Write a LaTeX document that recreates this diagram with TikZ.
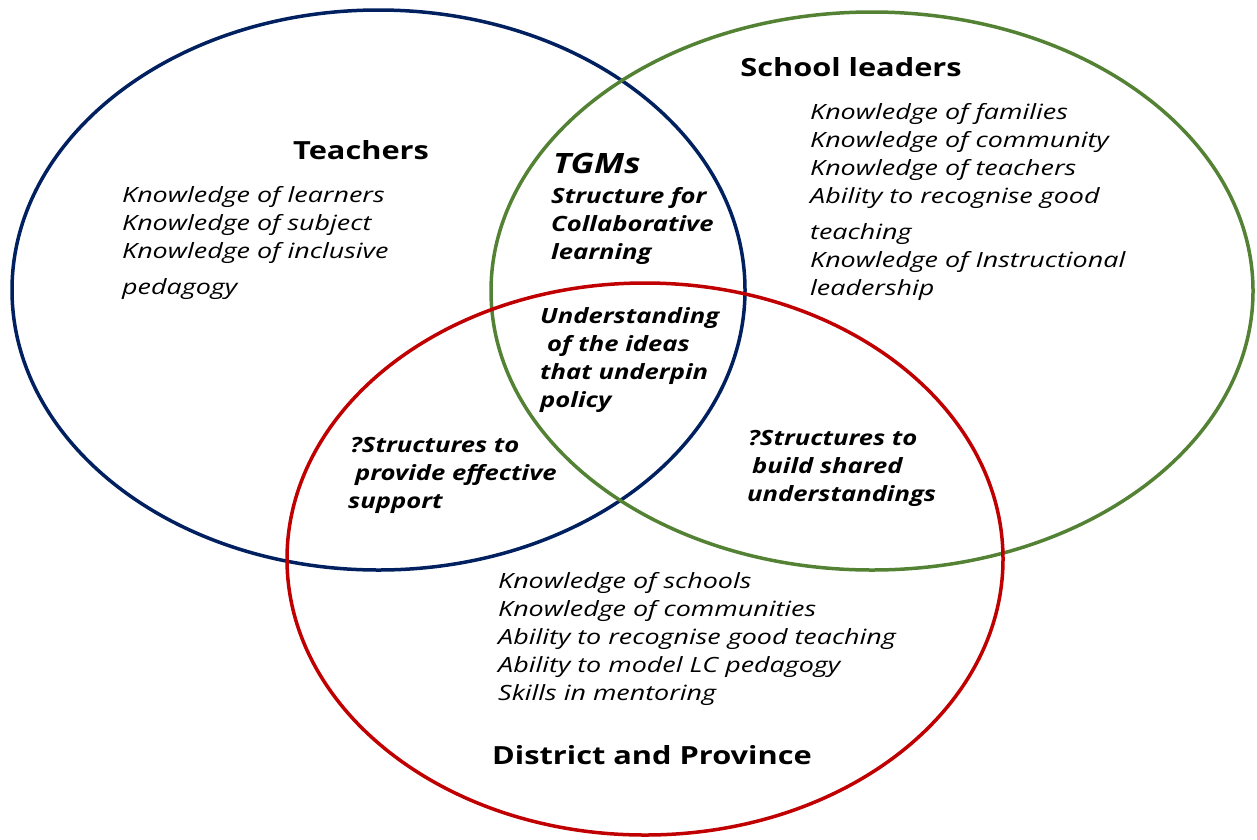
\documentclass[tikz,border=0pt]{standalone}
\usepackage{fontspec}
\setmainfont{Open Sans}[UprightFeatures={FakeStretch=1.0}, ItalicFeatures={FakeStretch=1.28}, BoldFeatures={FakeStretch=1.23}, BoldItalicFeatures={FakeStretch=1.22}]
\usetikzlibrary{shapes.geometric}
\definecolor{navyc}{HTML}{002060}
\definecolor{greenc}{HTML}{548235}
\definecolor{redc}{HTML}{C00000}
\tikzset{
  ring/.style={ellipse, draw, line width=3.5pt, inner sep=0pt, outer sep=0pt},
  item/.style={font=\fontsize{21}{28}\selectfont\itshape, inner sep=0pt, anchor=base west},
  head/.style={font=\fontsize{25}{30}\selectfont\bfseries, inner sep=0pt, anchor=base},
  bitem/.style={font=\fontsize{21}{28}\selectfont\bfseries\itshape, inner sep=0pt, anchor=base west},
}
\begin{document}
\begin{tikzpicture}[x=1pt,y=-1pt]
\useasboundingbox (0,0) rectangle (1257,839);
\node[ring, navyc, minimum width=733pt, minimum height=560pt] (teachers) at (378.5,290) {};
\node[ring, greenc, minimum width=762pt, minimum height=558pt] (leaders) at (872,291) {};
\node[ring, redc, minimum width=716pt, minimum height=552pt] (district) at (645,559) {};

\node[head] (hT) at (361,159) {Teachers};
\node[head] (hS) at (851,76) {School leaders};
\node[head] (hD) at (652,764) {District and Province};

\foreach \t/\y [count=\i] in {Knowledge of learners/202, Knowledge of subject/230, Knowledge of inclusive/258, pedagogy/294}
  \node[item] (ti\i) at (122,\y) {\t};
\foreach \t/\y [count=\i] in {Knowledge of families/119, Knowledge of community/147, Knowledge of teachers/175, Ability to recognise good/203, teaching/239, Knowledge of Instructional/267, leadership/295}
  \node[item] (si\i) at (810,\y) {\t};
\foreach \t/\y [count=\i] in {Knowledge of schools/588, Knowledge of communities/616, Ability to recognise good teaching/644, Ability to model LC pedagogy/672, Skills in mentoring/700}
  \node[item] (di\i) at (498,\y) {\t};

\node[bitem, font=\fontsize{28}{32}\selectfont\bfseries\itshape] (tgm) at (553,173) {TGMs};
\foreach \t/\y [count=\i] in {Structure for/203, Collaborative/231, learning/259}
  \node[bitem] (tg\i) at (551,\y) {\t};
\foreach \t/\x/\y [count=\i] in {Understanding/540/323, of the ideas/547/351, that underpin/540/379, policy/540/407}
  \node[bitem] (u\i) at (\x,\y) {\t};
\foreach \t/\x/\y [count=\i] in {?Structures to/350/452, provide effective/355/480, support/348/508}
  \node[bitem] (p\i) at (\x,\y) {\t};
\foreach \t/\x/\y [count=\i] in {?Structures to/748/445, build shared/752/473, understandings/747/501}
  \node[bitem] (b\i) at (\x,\y) {\t};
\end{tikzpicture}
\end{document}
